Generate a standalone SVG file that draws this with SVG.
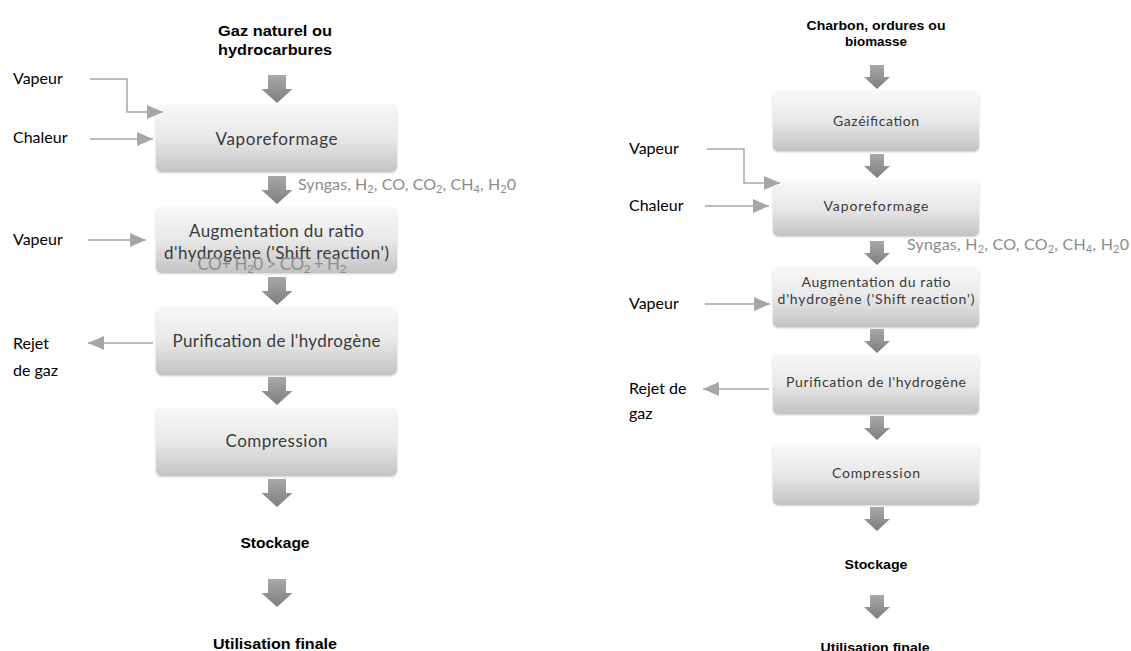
<svg xmlns="http://www.w3.org/2000/svg" width="1131" height="651" viewBox="0 0 1131 651">
<defs>
  <linearGradient id="boxg" x1="0" y1="0" x2="0" y2="1">
    <stop offset="0" stop-color="#f8f8f8"/>
    <stop offset="0.5" stop-color="#e8e8e8"/>
    <stop offset="1" stop-color="#c3c3c3"/>
  </linearGradient>
  <linearGradient id="arrg" x1="0" y1="0" x2="0" y2="1">
    <stop offset="0" stop-color="#a8a8a8"/>
    <stop offset="1" stop-color="#7e7e7e"/>
  </linearGradient>
  <filter id="sh" x="-5%" y="-10%" width="110%" height="130%">
    <feDropShadow dx="0" dy="1" stdDeviation="1" flood-color="#000" flood-opacity="0.2"/>
  </filter>
  <marker id="ah" viewBox="0 0 16 14" refX="16" refY="7" markerWidth="16" markerHeight="14" markerUnits="userSpaceOnUse" orient="auto">
    <path d="M0,0 L16,7 L0,14 z" fill="#a6a6a6"/>
  </marker>
</defs>
<style>
  .box{fill:url(#boxg);filter:url(#sh)}
  .bt{font-family:Lato,"Liberation Sans",sans-serif;fill:#3a3a3a;text-anchor:middle}
  .bl{font-size:17px}
  .br{font-size:14px}
  .lbl{font-family:Lato,"Liberation Sans",sans-serif;fill:#000;font-size:16px}
  .gr{fill:#8c8c8c}
  .ttl{font-family:"Liberation Sans",Arial,sans-serif;font-weight:bold;text-anchor:middle;fill:#000}
  .ln{fill:none;stroke:#a6a6a6;stroke-width:1.5;marker-end:url(#ah)}
  .ba{fill:url(#arrg)}
</style>

<!-- LEFT DIAGRAM -->
<g id="L-title">
  <text class="ttl" x="275" y="36" font-size="15" textLength="114" lengthAdjust="spacingAndGlyphs">Gaz naturel ou</text>
  <text class="ttl" x="275" y="55" font-size="15" textLength="114" lengthAdjust="spacingAndGlyphs">hydrocarbures</text>
</g>
<g id="L-vaporeformage">
  <rect class="box" x="156" y="105" width="241" height="67" rx="6"/>
  <text class="bt bl" x="276.5" y="145" textLength="122">Vaporeformage</text>
</g>
<g id="L-shift">
  <rect class="box" x="156" y="207" width="241" height="66" rx="6"/>
  <text class="bt bl" x="276.5" y="237" textLength="175">Augmentation du ratio</text>
  <text class="bt bl" x="276.5" y="259" textLength="225">d'hydrogène ('Shift reaction')</text>
  <text class="bt bl gr" x="272" y="270" textLength="149">CO+ H<tspan dy="3" font-size="12">2</tspan><tspan dy="-3">0 &gt; CO</tspan><tspan dy="3" font-size="12">2</tspan><tspan dy="-3"> + H</tspan><tspan dy="3" font-size="12">2</tspan></text>
</g>
<g id="L-purification">
  <rect class="box" x="156" y="307" width="241" height="68" rx="6"/>
  <text class="bt bl" x="276.5" y="347" textLength="208">Purification de l'hydrogène</text>
</g>
<g id="L-compression">
  <rect class="box" x="156" y="408" width="241" height="68" rx="6"/>
  <text class="bt bl" x="276.5" y="447" textLength="102">Compression</text>
</g>
<g id="L-stockage">
  <text class="ttl" x="275" y="548" font-size="15" textLength="69" lengthAdjust="spacingAndGlyphs">Stockage</text>
</g>
<g id="L-utilisation">
  <text class="ttl" x="275" y="649" font-size="15" textLength="124" lengthAdjust="spacingAndGlyphs">Utilisation finale</text>
</g>
<g id="L-labels">
  <text class="lbl" x="13" y="84">Vapeur</text>
  <text class="lbl" x="13" y="143">Chaleur</text>
  <text class="lbl" x="13" y="245">Vapeur</text>
  <text class="lbl" x="13" y="349">Rejet</text>
  <text class="lbl" x="13" y="376">de gaz</text>
  <text class="lbl gr" x="298" y="190" textLength="218">Syngas, H<tspan dy="3" font-size="11">2</tspan><tspan dy="-3">, CO, CO</tspan><tspan dy="3" font-size="11">2</tspan><tspan dy="-3">, CH</tspan><tspan dy="3" font-size="11">4</tspan><tspan dy="-3">, H</tspan><tspan dy="3" font-size="11">2</tspan><tspan dy="-3">0</tspan></text>
</g>

<!-- RIGHT DIAGRAM -->
<g id="R-title">
  <text class="ttl" x="876" y="30" font-size="13" textLength="139" lengthAdjust="spacingAndGlyphs">Charbon, ordures ou</text>
  <text class="ttl" x="876" y="46" font-size="13" textLength="62" lengthAdjust="spacingAndGlyphs">biomasse</text>
</g>
<g id="R-gazeification">
  <rect class="box" x="773" y="91" width="206" height="60" rx="5"/>
  <text class="bt br" x="876" y="126" textLength="86">Gazéification</text>
</g>
<g id="R-vaporeformage">
  <rect class="box" x="773" y="180" width="206" height="56" rx="5"/>
  <text class="bt br" x="876" y="211" textLength="105">Vaporeformage</text>
</g>
<g id="R-shift">
  <rect class="box" x="773" y="267" width="206" height="60" rx="5"/>
  <text class="bt br" x="876" y="287" textLength="149">Augmentation du ratio</text>
  <text class="bt br" x="876" y="304" textLength="197">d'hydrogène ('Shift reaction')</text>
</g>
<g id="R-purification">
  <rect class="box" x="773" y="354" width="206" height="60" rx="5"/>
  <text class="bt br" x="876" y="387" textLength="180">Purification de l'hydrogène</text>
</g>
<g id="R-compression">
  <rect class="box" x="773" y="444" width="206" height="61" rx="5"/>
  <text class="bt br" x="876" y="478" textLength="88">Compression</text>
</g>
<g id="R-stockage">
  <text class="ttl" x="876" y="569" font-size="13" textLength="63" lengthAdjust="spacingAndGlyphs">Stockage</text>
</g>
<g id="R-utilisation">
  <text class="ttl" x="875" y="652" font-size="13" textLength="109" lengthAdjust="spacingAndGlyphs">Utilisation finale</text>
</g>
<g id="R-labels">
  <text class="lbl" x="629" y="154">Vapeur</text>
  <text class="lbl" x="629" y="211">Chaleur</text>
  <text class="lbl" x="629" y="309">Vapeur</text>
  <text class="lbl" x="629" y="394">Rejet de</text>
  <text class="lbl" x="629" y="419">gaz</text>
  <text class="lbl gr" x="907" y="249.5" textLength="222">Syngas, H<tspan dy="3" font-size="11">2</tspan><tspan dy="-3">, CO, CO</tspan><tspan dy="3" font-size="11">2</tspan><tspan dy="-3">, CH</tspan><tspan dy="3" font-size="11">4</tspan><tspan dy="-3">, H</tspan><tspan dy="3" font-size="11">2</tspan><tspan dy="-3">0</tspan></text>
</g>

<g id="connectors">
  <!-- left block arrows -->
  <path class="ba" d="M268,75 h18 v14 h6.5 L277,103 L261.5,89 h6.5 z"/>
  <path class="ba" d="M268,176 h18 v14 h6.5 L277,204 L261.5,190 h6.5 z"/>
  <path class="ba" d="M268,277 h18 v14 h6.5 L277,305 L261.5,291 h6.5 z"/>
  <path class="ba" d="M268,377 h18 v14 h6.5 L277,405 L261.5,391 h6.5 z"/>
  <path class="ba" d="M268,479 h18 v14 h6.5 L277,507 L261.5,493 h6.5 z"/>
  <path class="ba" d="M268,579 h18 v14 h6.5 L277,607 L261.5,593 h6.5 z"/>
  <!-- left thin arrows -->
  <path class="ln" d="M90,79 H127 V112 H163"/>
  <path class="ln" d="M90,139 H153"/>
  <path class="ln" d="M88,240 H146"/>
  <path class="ln" d="M153,343 H88"/>
  <!-- right block arrows -->
  <path class="ba" d="M870,65 h14 v12 h6 L877,89 L864,77 h6 z"/>
  <path class="ba" d="M870,154 h14 v12 h6 L877,178 L864,166 h6 z"/>
  <path class="ba" d="M870,241 h14 v12 h6 L877,265 L864,253 h6 z"/>
  <path class="ba" d="M870,329 h14 v12 h6 L877,353 L864,341 h6 z"/>
  <path class="ba" d="M870,416 h14 v12 h6 L877,440 L864,428 h6 z"/>
  <path class="ba" d="M870,507 h14 v12 h6 L877,531 L864,519 h6 z"/>
  <path class="ba" d="M870,595 h14 v12 h6 L877,619 L864,607 h6 z"/>
  <!-- right thin arrows -->
  <path class="ln" d="M707,149 H744 V183 H780"/>
  <path class="ln" d="M705,206 H769"/>
  <path class="ln" d="M705,304 H770"/>
  <path class="ln" d="M769,389 H703"/>
</g>
</svg>
